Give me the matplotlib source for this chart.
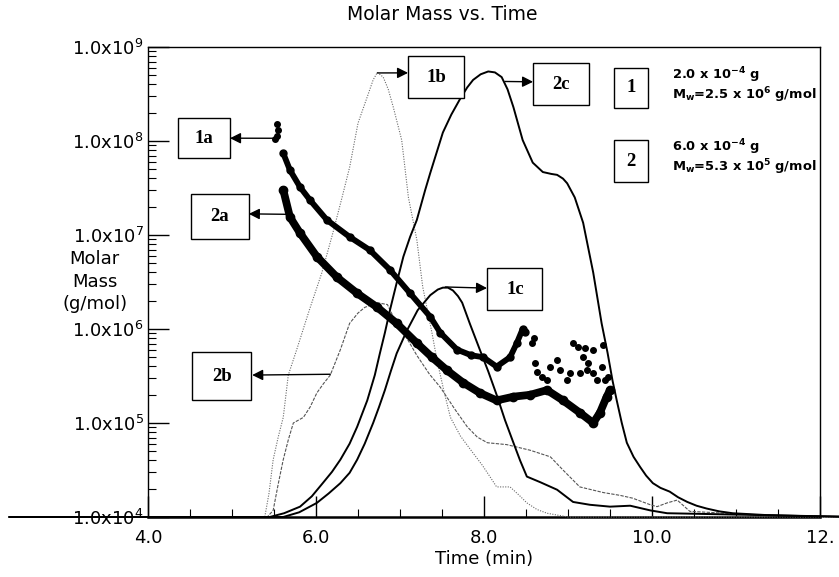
import matplotlib.pyplot as plt
import matplotlib.patches as patches
import numpy as np

plt.rcParams['font.family'] = 'DejaVu Sans'
plt.rcParams['mathtext.fontset'] = 'dejavusans'

# concentration traces (log10 of plotted value), sample 1 = dotted / thin solid, sample 2 = dashed / solid
t_1b = [2.35, 5.39, 5.44, 5.49, 5.55, 5.61, 5.67, 5.77, 5.92, 6.07, 6.20, 6.31, 6.40, 6.50, 6.61,
        6.68, 6.73, 6.80, 6.86, 6.92, 7.02, 7.10, 7.20, 7.27, 7.38, 7.44, 7.52, 7.60, 7.72, 7.87,
        7.98, 8.07, 8.15, 8.31, 8.42, 8.51, 8.63, 8.75, 9.0, 12.45]
logm_1b = [4.0, 4.0, 4.25, 4.61, 4.85, 5.06, 5.51, 5.78, 6.20, 6.60, 7.02, 7.40, 7.72, 8.19, 8.47,
           8.65, 8.73, 8.68, 8.55, 8.36, 8.01, 7.40, 6.95, 6.45, 5.96, 5.67, 5.35, 5.06, 4.86, 4.68,
           4.55, 4.43, 4.32, 4.32, 4.23, 4.15, 4.08, 4.04, 4.0, 4.0]

t_2b = [2.35, 5.42, 5.49, 5.55, 5.61, 5.67, 5.73, 5.85, 5.93, 6.01, 6.09, 6.17, 6.29, 6.40, 6.50,
        6.58, 6.73, 6.85, 6.92, 7.05, 7.20, 7.35, 7.48, 7.65, 7.80, 7.92, 8.04, 8.27, 8.55, 8.79,
        8.94, 9.14, 9.42, 9.62, 9.77, 9.98, 10.06, 10.18, 10.30, 10.45, 11.3, 12.45]
logm_2b = [4.0, 4.0, 4.07, 4.35, 4.61, 4.82, 5.0, 5.06, 5.17, 5.32, 5.42, 5.51, 5.78, 6.06, 6.17,
           6.23, 6.28, 6.26, 6.13, 5.95, 5.72, 5.52, 5.38, 5.15, 4.96, 4.85, 4.79, 4.77, 4.71, 4.64,
           4.50, 4.32, 4.26, 4.23, 4.20, 4.13, 4.11, 4.15, 4.18, 4.06, 4.02, 4.0]

t_2c = [2.35, 5.45, 5.62, 5.81, 5.95, 6.08, 6.19, 6.29, 6.40, 6.49, 6.55, 6.61, 6.70, 6.76, 6.82,
        6.88, 6.96, 7.04, 7.12, 7.20, 7.30, 7.36, 7.51, 7.61, 7.71, 7.80, 7.87, 7.96, 8.05, 8.13,
        8.21, 8.28, 8.35, 8.46, 8.58, 8.70, 8.80, 8.87, 8.94, 8.99, 9.08, 9.18, 9.30, 9.40, 9.47,
        9.53, 9.58, 9.64, 9.70, 9.78, 9.86, 9.93, 10.01, 10.10, 10.21, 10.31, 10.42, 10.53,
        10.65, 10.80, 10.96, 11.37, 11.8, 12.45]
logm_2c = [4.0, 4.0, 4.04, 4.11, 4.22, 4.36, 4.48, 4.61, 4.78, 4.96, 5.10, 5.24, 5.51, 5.74, 5.96,
           6.20, 6.49, 6.77, 6.98, 7.16, 7.48, 7.66, 8.09, 8.28, 8.44, 8.57, 8.65, 8.71, 8.74, 8.73,
           8.68, 8.55, 8.36, 8.01, 7.77, 7.67, 7.65, 7.64, 7.60, 7.55, 7.40, 7.13, 6.60, 6.06, 5.75,
           5.45, 5.24, 5.00, 4.79, 4.64, 4.53, 4.44, 4.36, 4.31, 4.27, 4.21, 4.16, 4.12,
           4.09, 4.06, 4.04, 4.02, 4.01, 4.0]

t_1c = [2.35, 5.61, 5.80, 6.01, 6.15, 6.29, 6.40, 6.49, 6.58, 6.68, 6.75, 6.82, 6.89, 6.96, 7.08,
        7.21, 7.36, 7.45, 7.51, 7.57, 7.63, 7.69, 7.74, 7.83, 7.95, 8.05, 8.15, 8.25, 8.35, 8.43,
        8.51, 8.67, 8.87, 9.06, 9.26, 9.50, 9.74, 9.98, 10.18, 12.45]
logm_1c = [4.0, 4.0, 4.05, 4.15, 4.25, 4.36, 4.47, 4.61, 4.78, 5.0, 5.17, 5.35, 5.55, 5.74, 5.98,
           6.20, 6.36, 6.42, 6.44, 6.44, 6.41, 6.35, 6.28, 6.06, 5.78, 5.55, 5.30, 5.03, 4.79, 4.60,
           4.43, 4.37, 4.29, 4.16, 4.13, 4.11, 4.12, 4.07, 4.04, 4.0]

# molar mass scatter
t_1a = [5.61, 5.69, 5.81, 5.93, 6.13, 6.40, 6.64, 6.88, 7.12, 7.36, 7.48, 7.68, 7.85, 7.99,
        8.15, 8.31, 8.39, 8.46, 8.49]
logm_1a = [7.87, 7.69, 7.51, 7.37, 7.16, 6.98, 6.84, 6.63, 6.38, 6.13, 5.96, 5.78, 5.72, 5.70,
           5.60, 5.70, 5.85, 6.00, 5.97]
t_1a_dots = [5.53, 5.55, 5.51, 5.54, 8.57, 8.60]
logm_1a_dots = [8.18, 8.12, 8.02, 8.05, 5.85, 5.90]

t_2a = [5.61, 5.69, 5.81, 6.01, 6.25, 6.49, 6.73, 6.96, 7.20, 7.38, 7.56, 7.75, 7.95, 8.15,
        8.35, 8.55, 8.75, 8.94, 9.14, 9.30, 9.38, 9.46, 9.50]
logm_2a = [7.48, 7.19, 7.02, 6.77, 6.55, 6.38, 6.23, 6.06, 5.85, 5.70, 5.56, 5.43, 5.32, 5.24,
           5.28, 5.30, 5.35, 5.24, 5.11, 5.00, 5.11, 5.28, 5.35]
t_2a_dots = [8.61, 8.63, 8.69, 8.75, 8.79, 8.87, 8.90, 8.99, 9.02, 9.06, 9.12, 9.14, 9.18, 9.20,
             9.23, 9.24, 9.30, 9.30, 9.35, 9.40, 9.42, 9.44, 9.48]
logm_2a_dots = [5.64, 5.54, 5.49, 5.46, 5.60, 5.67, 5.56, 5.46, 5.53, 5.85, 5.81, 5.53, 5.70, 5.80,
                5.56, 5.64, 5.78, 5.53, 5.46, 5.60, 5.83, 5.46, 5.49]

y_ticks = [1e4, 1e5, 1e6, 1e7, 1e8, 1e9]
y_labels = [r'1.0x10$^{\mathregular{%d}}$' % k for k in range(4, 10)]
x_ticks = [4, 6, 8, 10, 12]
x_labels = ['4.0', '6.0', '8.0', '10.0', '12.']

fig = plt.figure(figsize=(8.39, 5.77), dpi=100)
ax = fig.add_axes([0.1764, 0.104, 0.801, 0.8145])

def p(v):
    return np.power(10.0, v)

ax.plot(t_1b, p(logm_1b), color='#6a6a6a', lw=0.8, ls=(0, (1, 1.3)), zorder=3, clip_on=False)
ax.plot(t_2b, p(logm_2b), color='#555555', lw=0.8, ls=(0, (3, 1.2)), zorder=3, clip_on=False)
ax.plot(t_2c, p(logm_2c), color='black', lw=1.4, zorder=3, clip_on=False)
ax.plot(t_1c, p(logm_1c), color='black', lw=1.4, zorder=3, clip_on=False)

ax.plot(t_1a, p(logm_1a), color='black', lw=4.2, marker='o', ms=5, solid_capstyle='round', zorder=4)
ax.plot(t_1a_dots, p(logm_1a_dots), 'o', color='black', ms=4, zorder=4)
ax.plot(t_2a, p(logm_2a), color='black', lw=5.6, marker='o', ms=6, solid_capstyle='round', zorder=4)
ax.plot(t_2a_dots, p(logm_2a_dots), 'o', color='black', ms=4, zorder=4)

ax.set_yscale('log')
ax.set_xlim(4, 12)
ax.set_ylim(1e4, 1e9)
ax.set_yticks(y_ticks)
ax.set_yticklabels(y_labels)
ax.set_xticks(x_ticks)
ax.set_xticklabels(x_labels)
ax.set_xticks(np.arange(4, 12.01, 0.5), minor=True)
ax.tick_params(axis='both', which='major', direction='in', length=15, width=1, labelsize=13, pad=3)
ax.tick_params(axis='both', which='minor', direction='in', length=6, width=0.8)
ax.tick_params(axis='x', which='major', pad=9)
for s in ax.spines.values():
    s.set_linewidth(1.0)
ax.spines['bottom'].set_linewidth(1.8)

fig.text(442 / 839, 1 - 15 / 577, 'Molar Mass vs. Time', fontsize=13.5, ha='center', va='center')
ax.set_xlabel('Time (min)', fontsize=13, labelpad=2)
fig.text(0.113, 0.512, 'Molar\nMass\n(g/mol)', fontsize=13, ha='center', va='center', linespacing=1.3)

# label boxes: (text, centre x, centre y, width, height) in axes fraction
boxes = [('1a', 0.0833, 0.806, 0.077, 0.085),
         ('2a', 0.107, 0.640, 0.086, 0.096),
         ('2b', 0.110, 0.300, 0.088, 0.102),
         ('1b', 0.4286, 0.936, 0.082, 0.091),
         ('2c', 0.6146, 0.921, 0.082, 0.089),
         ('1c', 0.546, 0.485, 0.082, 0.089),
         ('1', 0.719, 0.913, 0.051, 0.085),
         ('2', 0.719, 0.757, 0.051, 0.089)]
for lab, cx, cy, w, h in boxes:
    ax.add_patch(patches.Rectangle((cx - w / 2, cy - h / 2), w, h, transform=ax.transAxes,
                                   fill=True, facecolor='white', edgecolor='black', lw=1.0, zorder=5))
    ax.text(cx, cy, lab, transform=ax.transAxes, ha='center', va='center', fontsize=13.5,
            family='Liberation Serif', weight='bold', zorder=6)

# arrows from the curves to the boxes
arrows = [((5.51, 1.07e8), (0.122, 0.806)),
          ((5.67, 1.66e7), (0.150, 0.645)),
          ((6.17, 3.3e5), (0.155, 0.302)),
          ((6.73, 5.3e8), (0.387, 0.945)),
          ((8.25, 4.3e8), (0.573, 0.926)),
          ((7.54, 2.8e6), (0.5045, 0.487))]
for tail, head in arrows:
    ax.annotate('', xy=head, xycoords='axes fraction', xytext=tail, textcoords='data',
                arrowprops=dict(arrowstyle='-|>', color='black', lw=1.0, mutation_scale=16,
                                shrinkA=0, shrinkB=0), zorder=6)

legend_texts = [(0.919, '2.0 x 10$^{\\mathbf{-4}}$ g\nM$_{\\mathbf{w}}$=2.5 x 10$^{\\mathbf{6}}$ g/mol'),
                (0.766, '6.0 x 10$^{\\mathbf{-4}}$ g\nM$_{\\mathbf{w}}$=5.3 x 10$^{\\mathbf{5}}$ g/mol')]
for fy, txt in legend_texts:
    ax.text(0.779, fy, txt, transform=ax.transAxes, fontsize=9.4, weight='bold',
            va='center', ha='left', linespacing=1.05, zorder=6)

fig.savefig('out.png', dpi=100)
